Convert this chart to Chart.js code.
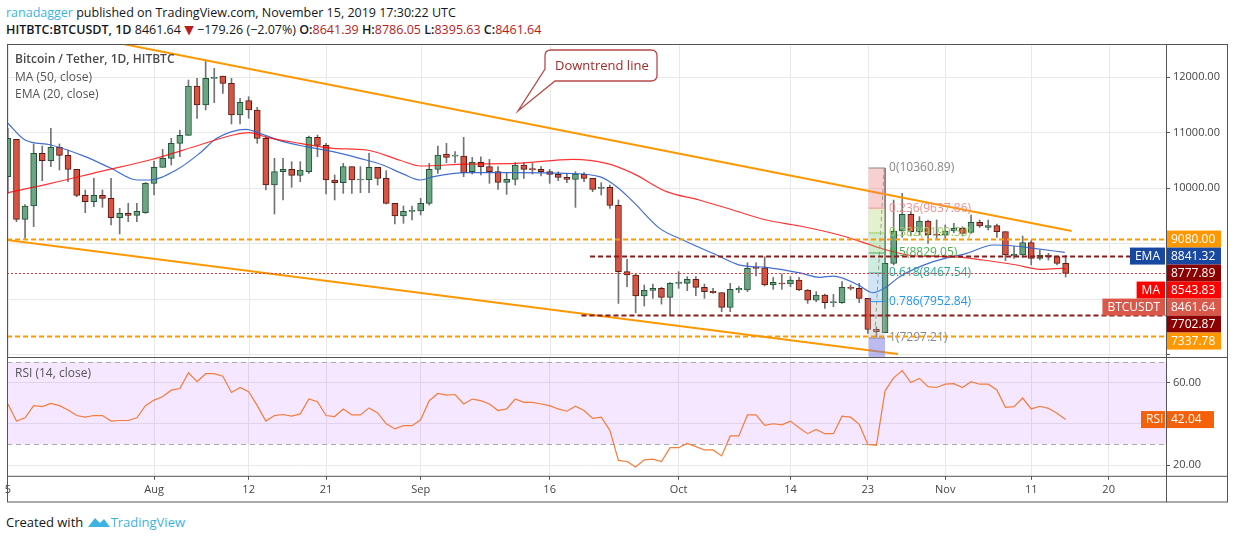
<!DOCTYPE html>
<html>
<head>
<meta charset="utf-8">
<script src="https://cdn.jsdelivr.net/npm/chart.js@4.4.0/dist/chart.umd.min.js"></script>
<style>
  body { margin: 0; width: 1234px; height: 540px; background: #fff; font-family: "Open Sans", "DejaVu Sans", sans-serif; position: relative; overflow: hidden; }
  #hdr1 { position: absolute; left: 6px; top: 4px; font-size: 12.5px; color: #131722; }
  #hdr2 { position: absolute; left: 6px; top: 21px; font-size: 12.5px; color: #131722; }
  #hdr2 b { font-weight: 600; }
  .rd { color: #b71c1c; }
  #foot { position: absolute; left: 6px; top: 513px; font-size: 13px; color: #131722; }
  #foot span { color: #3bb3e4; }
  canvas { position: absolute; left: 0; }
</style>
</head>
<body>
<div id="hdr1"><span style="color:#3bb3e4">ranadagger</span> published on TradingView.com, November 15, 2019 17:30:22 UTC</div>
<div id="hdr2"><b>HITBTC:BTCUSDT, 1D</b> 8461.64 <span class="rd">&#9660;</span> &minus;179.26 (&minus;2.07%) <b>O:</b><span class="rd">8641.39</span> <b>H:</b><span class="rd">8786.05</span> <b>L:</b><span class="rd">8395.63</span> <b>C:</b><span class="rd">8461.64</span></div>
<canvas id="price" width="1234" height="313" style="top:44px"></canvas>
<canvas id="rsi" width="1234" height="146" style="top:357px"></canvas>
<div id="foot">Created with <svg width="24" height="13" viewBox="0 0 24 13" style="vertical-align:-1px"><path d="M1 12 L8 3 L13 8 L17 4 L23 12 Z" fill="#3bb3e4"/></svg><span>TradingView</span></div>
<script>
// daily candles, Jul 15 .. Nov 15 2019 (day index 0..123)
const opens = [10204,10877,9436,9676,10625,10493,10733,10589,10337,9868,9754,9868,9814,9466,9544,9508,9556,10085,10373,10535,10805,10949,11838,11496,11976,12018,11886,11316,11574,11406,10895,10054,10295,10337,10229,10295,10913,10769,10144,10096,10385,10144,10150,10373,10174,9724,9496,9580,9585,9723,10336,10612,10576,10576,10294,10462,10384,10294,10102,10156,10414,10336,10336,10294,10246,10192,10156,10246,10174,9994,10012,9688,8492,8432,8054,8156,8192,8030,8282,8282,8354,8210,8138,8114,7849,8162,8162,8564,8564,8252,8282,8270,8342,8162,7981,8072,7934,7934,8210,8192,8012,7453,7393,8643,9225,9526,9213,9406,9153,9150,9225,9273,9201,9382,9291,9321,9213,8775,8793,9015,8733,8793,8763,8641.39];
const highs = [11075,10877,9700,10793,10757,11075,10793,10685,10337,9964,10174,9964,10174,9634,9724,9724,10097,10487,10697,10895,11045,11946,11976,12307,12157,12018,11976,11616,11646,11454,10925,10535,10535,10475,10475,10937,10955,10805,10235,10445,10385,10385,10625,10373,10313,9724,9676,9676,9814,10444,10757,10805,10655,10913,10552,10564,10516,10384,10276,10456,10456,10444,10384,10336,10294,10264,10294,10276,10174,10096,10054,9784,8714,8450,8252,8270,8210,8294,8492,8402,8402,8270,8192,8114,8282,8222,8654,8654,8762,8390,8450,8402,8390,8174,8132,8090,8084,8312,8252,8282,8012,7501,10355,9784,9904,9574,9484,9424,9424,9334,9364,9303,9514,9424,9424,9351,9213,8943,9135,9063,8883,8823,8775,8786.05];
const lows = [9904,9393,9093,9304,10132,10385,10325,10114,9844,9556,9664,9652,9334,9172,9393,9393,9544,9874,10373,10415,10565,10949,11256,11406,11538,11706,11154,11154,11256,10805,9964,9532,9784,10012,10114,10264,10565,9892,9784,9904,9904,9916,9916,10054,9712,9352,9364,9424,9513,9693,10264,10456,10456,10204,10252,10234,10084,9976,9886,10054,10174,10252,10216,10084,10132,10096,9651,10114,9934,9874,9633,7921,8222,7753,7873,8012,7909,7711,8192,8150,8060,8012,8102,7771,7771,8114,8132,8414,8234,8174,8174,8222,8150,7921,7951,7832,7862,7922,8162,7934,7380,7320,7393,8613,9111,9135,9153,9003,9093,9093,9195,9135,9183,9291,9243,9111,8691,8733,8751,8613,8703,8703,8613,8395.63];
const closes = [10895,9436,9676,10625,10493,10733,10589,10337,9868,9754,9868,9814,9466,9544,9508,9580,10085,10373,10535,10805,10949,11838,11496,11976,11988,11886,11316,11544,11406,10895,10054,10295,10337,10229,10325,10913,10769,10144,10096,10385,10144,10150,10373,10174,9724,9496,9580,9590,9723,10336,10594,10552,10578,10276,10462,10384,10294,10102,10156,10414,10336,10330,10294,10246,10192,10156,10252,10174,9976,10006,9688,8492,8432,8054,8156,8192,8030,8282,8285,8354,8210,8132,8114,7849,8174,8192,8552,8552,8252,8300,8270,8342,8162,7981,8071,7934,7940,8210,8192,8012,7453,7411,8643,9225,9526,9213,9406,9153,9150,9225,9273,9183,9382,9315,9321,9213,8793,8805,9015,8733,8793,8763,8643,8461.64];

// indicator lines (day index, value)
const emaDays = [0,2,5,9,12,15,16.5,19.6,22.3,24.3,27.7,29.3,32,34.7,37.8,40.9,43.6,46,48,49.5,53.3,59.1,64.9,68.8,70.8,72.7,75.8,78.5,82.4,85.1,88.2,92.1,94.4,96,98.9,100.6,102.2,103.7,107.6,111.5,114.6,117,119.3,122.9];
const emaVals = [11166,10865,10775,10565,10355,10144,10144,10325,10625,10895,11057,10985,10835,10745,10655,10535,10415,10250,10144,10204,10276,10276,10264,10204,10024,9754,9273,9063,8793,8612,8570,8470,8390,8414,8252,8114,8222,8402,8673,8823,8973,8955,8913,8841];
const maDays = [0,5,10.7,16.5,22.3,26.2,28.1,30.1,34,37.8,41.7,45.6,48,53.3,59.1,65.7,69.6,72.7,76.6,80.4,84.3,88.2,92.1,96.7,99.8,102.2,105.6,109.5,113.4,117.3,120,122.5,123];
const maVals = [9916,10085,10295,10505,10775,10955,10997,10913,10805,10715,10685,10500,10397,10432,10444,10516,10444,10264,9934,9784,9603,9423,9315,9153,9003,8883,8775,8763,8703,8613,8535,8553,8544];
const rsiVals = [49.6,41.3,42.9,48.8,48.3,49.9,48.8,46.7,44,43.2,44,44,41.3,41.6,41.6,42.9,48.8,51.5,53.1,56.3,57.1,64.7,60.4,64.3,64.3,63.1,55.2,57.6,55.6,48.8,41.3,44,44.5,43.7,44.8,52,50.7,44,43.5,47.2,44.3,44.3,47.7,45.3,40,37.5,39.1,39.1,41.9,51.2,54.7,53.9,54.2,49.6,52,51.2,49.6,46.4,47.2,52,50.4,50.4,49.6,48.8,47.2,46.1,48.5,46.4,42.6,43.2,36.8,22.2,21.7,19,22.5,22.8,21.7,28.4,28.4,30.5,28.9,27.3,27.3,24.4,34.1,34.1,44.3,44.3,39.2,40,39.5,41.3,38.1,35.2,37.3,35.2,35.2,43.7,43.2,39.7,30,29.5,56,62.3,65.8,60,62,58,57.6,59.2,59.5,57.6,60.4,59.2,59.2,56.4,48,48.3,52.5,47.2,48.5,47.5,45.1,42.04];

// channel lines [day, price]
const upperLine = [[13.4,12595],[123.7,9225]];
const lowerLine = [[-1,9080],[103.5,7009]];

// horizontal levels
const levelVals = [9080, 8777.89, 8461.64, 7702.87, 7337.78];
const levelFrom = [-1, 67.7, -1, 66.7, -1];

// fibonacci retracement
const fibRatios = ['0', '0.236', '0.382', '0.5', '0.618', '0.786', '1'];
const fibVals = [10360.89, 9637.86, 9190.50, 8829.05, 8467.54, 7952.84, 7297.21];

// x axis ticks
const tickDays = [0,17,28,37,48,63,78,91,100,109,119,128];
const tickText = ['5','Aug','12','21','Sep','16','Oct','14','23','Nov','11','20'];

const days = closes.map((c, i) => i);
const XMIN = -0.1, XMAX = 134.67;
const FONT = '"Open Sans", "DejaVu Sans", sans-serif';
const GRID = '#e9e9e9';

function xScale(showTicks) {
  return {
    type: 'linear', min: XMIN, max: XMAX, offset: false, display: showTicks,
    grid: { color: GRID, drawTicks: true, tickLength: 4, tickColor: '#555', offset: false },
    border: { display: false },
    afterBuildTicks: s => { s.ticks = tickDays.map(v => ({ value: v })); },
    ticks: {
      autoSkip: false, maxRotation: 0, color: '#444', font: { family: FONT, size: 11 },
      callback: v => tickText[tickDays.indexOf(v)]
    }
  };
}

function yFit(s) {
  s.width = 61;
  s.paddingTop = 0;
  s.paddingBottom = 0;
}

const upColor = '#6ba583', downColor = '#d75442';
const up = days.map(i => closes[i] >= opens[i]);

function tag(ctx, y, text, color, x0, w) {
  ctx.fillStyle = color;
  ctx.fillRect(x0, y - 8.5, w, 17);
  ctx.fillStyle = '#fff';
  ctx.textAlign = 'left';
  ctx.textBaseline = 'middle';
  ctx.fillText(text, x0 + 5, y + 0.5);
}

const pricePlugin = {
  id: 'priceDecor',
  beforeDatasetsDraw(chart) {
    const { ctx, chartArea: a, scales: { x } } = chart;
    ctx.save();
    ctx.strokeStyle = GRID; ctx.lineWidth = 1;
    tickDays.forEach(d => {
      const px = Math.round(x.getPixelForValue(d)) + 0.5;
      if (px < a.left || px > a.right) return;
      ctx.beginPath(); ctx.moveTo(px, a.top); ctx.lineTo(px, a.bottom); ctx.stroke();
    });
    ctx.restore();
  },
  afterDatasetsDraw(chart) {
    const { ctx, chartArea: a, scales: { x, y } } = chart;
    ctx.save();
    ctx.beginPath(); ctx.rect(a.left, a.top, a.right - a.left, a.bottom - a.top); ctx.clip();
    // fib boxes
    const fx0 = x.getPixelForValue(100.1), fx1 = x.getPixelForValue(102);
    const fibFill = ['rgba(236,120,120,0.35)','rgba(190,220,130,0.4)','rgba(120,200,110,0.35)','rgba(90,200,150,0.3)','rgba(100,170,230,0.3)','rgba(180,180,180,0.35)'];
    for (let k = 0; k < fibVals.length - 1; k++) {
      ctx.fillStyle = fibFill[k];
      ctx.fillRect(fx0, y.getPixelForValue(fibVals[k]), fx1 - fx0, y.getPixelForValue(fibVals[k + 1]) - y.getPixelForValue(fibVals[k]));
    }
    ctx.fillStyle = 'rgba(120,120,230,0.5)';
    ctx.fillRect(fx0, y.getPixelForValue(fibVals[6]), fx1 - fx0, a.bottom - y.getPixelForValue(fibVals[6]));
    ctx.strokeStyle = '#999'; ctx.lineWidth = 1; ctx.setLineDash([4, 3]);
    ctx.beginPath();
    ctx.moveTo(x.getPixelForValue(101.9), y.getPixelForValue(fibVals[0]));
    ctx.lineTo(x.getPixelForValue(100.8), y.getPixelForValue(fibVals[6]));
    ctx.stroke();
    ctx.setLineDash([]);
    const fibText = ['#888','#f09090','#9ccc65','#4caf50','#26a69a','#2196f3','#888'];
    ctx.font = '12px ' + FONT; ctx.textBaseline = 'middle'; ctx.textAlign = 'left';
    fibRatios.forEach((r, k) => {
      const py = y.getPixelForValue(fibVals[k]);
      ctx.strokeStyle = fibText[k];
      ctx.beginPath(); ctx.moveTo(fx0, py); ctx.lineTo(fx1, py); ctx.stroke();
      ctx.fillStyle = fibText[k];
      ctx.fillText(r + '(' + fibVals[k].toFixed(2) + ')', fx1 + 4, py);
    });
    // horizontal levels
    const lvStyle = [['#ff9800', 2, [5, 3]], ['#8b1a1a', 2, [5, 3]], ['#e53935', 1, [2, 2]], ['#8b1a1a', 2, [5, 3]], ['#ff9800', 2, [5, 3]]];
    levelVals.forEach((v, k) => {
      const py = Math.round(y.getPixelForValue(v)) + 0.5;
      ctx.strokeStyle = lvStyle[k][0]; ctx.lineWidth = lvStyle[k][1]; ctx.setLineDash(lvStyle[k][2]);
      ctx.beginPath(); ctx.moveTo(Math.max(a.left, x.getPixelForValue(levelFrom[k])), py); ctx.lineTo(a.right, py); ctx.stroke();
    });
    ctx.setLineDash([]);
    // callout
    ctx.strokeStyle = '#b84a4a'; ctx.lineWidth = 1.3; ctx.fillStyle = '#fff';
    const bx = 545, by = 6, bw = 112, bh = 31, r = 6;
    ctx.beginPath();
    ctx.moveTo(bx + r, by); ctx.lineTo(bx + bw - r, by); ctx.quadraticCurveTo(bx + bw, by, bx + bw, by + r);
    ctx.lineTo(bx + bw, by + bh - r); ctx.quadraticCurveTo(bx + bw, by + bh, bx + bw - r, by + bh);
    ctx.lineTo(bx + 10, by + bh); ctx.lineTo(518, 67); ctx.lineTo(bx, by + bh - 12);
    ctx.lineTo(bx, by + r); ctx.quadraticCurveTo(bx, by, bx + r, by);
    ctx.closePath(); ctx.fill(); ctx.stroke();
    ctx.fillStyle = '#a52a2a'; ctx.font = '13px ' + FONT; ctx.textAlign = 'left';
    ctx.fillText('Downtrend line', bx + 10, by + 16);
    // legend
    ctx.fillStyle = '#4a4a4a'; ctx.font = '600 12px ' + FONT;
    ctx.fillText('Bitcoin / Tether, 1D, HITBTC', 15, 16);
    ctx.font = '12px ' + FONT; ctx.fillStyle = '#555';
    ctx.fillText('MA (50, close)', 15, 34);
    ctx.fillText('EMA (20, close)', 15, 51);
    ctx.restore();

    // price axis tags, stacked
    ctx.save();
    ctx.font = '12px ' + FONT;
    const tags = [
      [9080, '9080.00', '#ff9800'], [8841.32, '8841.32', '#1848a0', 'EMA'], [8777.89, '8777.89', '#8b0000'],
      [8543.83, '8543.83', '#ff0000', 'MA'], [8461.64, '8461.64', '#d9584a', 'BTCUSDT'], [7702.87, '7702.87', '#8b0000'], [7337.78, '7337.78', '#ff9800']
    ];
    let last = -1e9;
    tags.forEach(t => {
      let py = Math.max(y.getPixelForValue(t[0]), last + 17);
      last = py;
      tag(ctx, py, t[1], t[2], a.right, 55);
      if (t[3]) {
        const w = ctx.measureText(t[3]).width + 10;
        tag(ctx, py, t[3], t[2], a.right - w - 1, w);
      }
    });
    // frame
    ctx.strokeStyle = '#555'; ctx.lineWidth = 1;
    ctx.strokeRect(a.left + 0.5, a.top + 0.5, 1227 - a.left, a.bottom - a.top);
    ctx.beginPath(); ctx.moveTo(a.right + 0.5, a.top); ctx.lineTo(a.right + 0.5, a.bottom); ctx.stroke();
    ctx.restore();
  }
};

new Chart(document.getElementById('price'), {
  type: 'bar',
  data: {
    datasets: [
      { type: 'line', data: maDays.map((d, k) => ({ x: d, y: maVals[k] })), borderColor: 'rgba(255,0,0,0.8)', borderWidth: 1.2, pointRadius: 0, cubicInterpolationMode: 'monotone', order: 0 },
      { type: 'line', data: emaDays.map((d, k) => ({ x: d, y: emaVals[k] })), borderColor: 'rgba(45,95,200,0.9)', borderWidth: 1.2, pointRadius: 0, cubicInterpolationMode: 'monotone', order: 0 },
      { type: 'line', data: upperLine.map(p => ({ x: p[0], y: p[1] })), borderColor: '#ff9800', borderWidth: 2, pointRadius: 0, order: 0 },
      { type: 'line', data: lowerLine.map(p => ({ x: p[0], y: p[1] })), borderColor: '#ff9800', borderWidth: 2, pointRadius: 0, order: 0 },
      { data: days.map(i => ({ x: i, y: [opens[i], closes[i]] })), backgroundColor: days.map(i => up[i] ? upColor : downColor),
        borderColor: days.map(i => up[i] ? '#225437' : '#5b1a13'), borderWidth: 1, borderSkipped: false, barThickness: 6, grouped: false, minBarLength: 1, order: 1 },
      { data: days.map(i => ({ x: i, y: [lows[i], highs[i]] })), backgroundColor: '#737375', barThickness: 1, grouped: false, order: 2 }
    ]
  },
  options: {
    responsive: false, animation: false, devicePixelRatio: 1,
    layout: { padding: { left: 7, right: 7, top: 0, bottom: 0 } },
    plugins: { legend: { display: false }, tooltip: { enabled: false } },
    scales: {
      x: xScale(false),
      y: {
        position: 'right', min: 6955, max: 12595,
        grid: { color: GRID, drawTicks: true, tickLength: 4, tickColor: '#555' },
        border: { display: false },
        afterBuildTicks: s => { s.ticks = [7000, 8000, 9000, 10000, 11000, 12000].map(v => ({ value: v })); },
        ticks: { color: '#444', font: { family: FONT, size: 11 }, padding: 3, callback: v => v >= 10000 ? v.toFixed(2) : '' },
        afterFit: yFit
      }
    }
  },
  plugins: [pricePlugin]
});

const rsiPlugin = {
  id: 'rsiDecor',
  beforeDatasetsDraw(chart) {
    const { ctx, chartArea: a, scales: { y } } = chart;
    ctx.save();
    const y70 = y.getPixelForValue(70), y30 = y.getPixelForValue(30);
    ctx.fillStyle = 'rgba(153,21,255,0.1)';
    ctx.fillRect(a.left, y70, a.right - a.left, y30 - y70);
    ctx.strokeStyle = '#aaa'; ctx.setLineDash([5, 4]); ctx.lineWidth = 1;
    [y70, y30].forEach(py => { ctx.beginPath(); ctx.moveTo(a.left, Math.round(py) + 0.5); ctx.lineTo(a.right, Math.round(py) + 0.5); ctx.stroke(); });
    ctx.restore();
  },
  afterDatasetsDraw(chart) {
    const { ctx, chartArea: a, scales: { y } } = chart;
    ctx.save();
    ctx.fillStyle = '#555'; ctx.font = '12px ' + FONT; ctx.textBaseline = 'middle';
    ctx.fillText('RSI (14, close)', 15, 17);
    ctx.font = '12px ' + FONT;
    const py = y.getPixelForValue(rsiVals[rsiVals.length - 1]);
    tag(ctx, py, rsiVals[rsiVals.length - 1].toFixed(2), '#f5600a', a.right, 48);
    tag(ctx, py, 'RSI', '#f5600a', a.right - 25, 24);
    ctx.strokeStyle = '#555'; ctx.lineWidth = 1;
    ctx.strokeRect(a.left + 0.5, a.top + 0.5, 1227 - a.left, chart.height - a.top - 1.5);
    ctx.beginPath();
    ctx.moveTo(a.left, a.bottom + 0.5); ctx.lineTo(1227, a.bottom + 0.5);
    ctx.moveTo(a.right + 0.5, a.top); ctx.lineTo(a.right + 0.5, chart.height - 1);
    ctx.stroke();
    ctx.restore();
  }
};

new Chart(document.getElementById('rsi'), {
  type: 'line',
  data: { datasets: [{ data: days.map(i => ({ x: i, y: rsiVals[i] })), borderColor: '#f57c3b', borderWidth: 1.2, pointRadius: 0 }] },
  options: {
    responsive: false, animation: false, devicePixelRatio: 1,
    layout: { padding: { left: 7, right: 7, top: 0, bottom: 4 } },
    plugins: { legend: { display: false }, tooltip: { enabled: false } },
    scales: {
      x: xScale(true),
      y: {
        position: 'right', min: 14.76, max: 72.4,
        grid: { color: GRID, drawTicks: true, tickLength: 4, tickColor: '#555' },
        border: { display: false },
        afterBuildTicks: s => { s.ticks = [20, 40, 60].map(v => ({ value: v })); },
        ticks: { color: '#444', font: { family: FONT, size: 11 }, padding: 3, callback: v => v === 40 ? '' : v.toFixed(2) },
        afterFit: yFit
      }
    }
  },
  plugins: [rsiPlugin]
});
</script>
</body>
</html>
